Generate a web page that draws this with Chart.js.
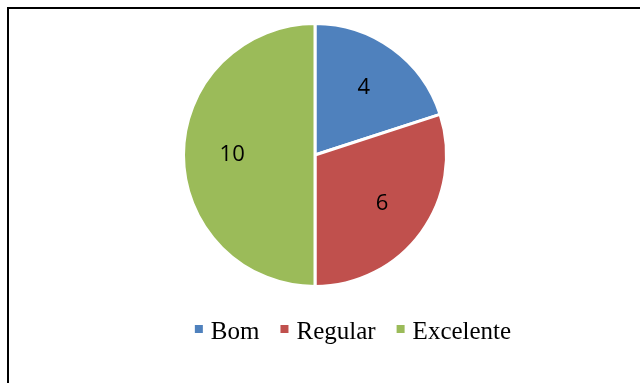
<!DOCTYPE html>
<html>
<head>
<meta charset="utf-8">
<script src="https://cdn.jsdelivr.net/npm/chart.js@4/dist/chart.umd.min.js"></script>
<style>
  html, body { margin: 0; padding: 0; background: #fff; }
  #wrap { position: relative; width: 640px; height: 383px; overflow: hidden; }
  #frame { position: absolute; left: 7px; top: 7px; width: 700px; height: 400px;
           border-top: 2px solid #000; border-left: 2px solid #000; }
  canvas { position: absolute; left: 0; top: 0; }
</style>
</head>
<body>
<div id="wrap">
  <div id="frame"></div>
  <canvas id="myChart" width="640" height="383"></canvas>
</div>
<script>
const categories = ['Bom', 'Regular', 'Excelente'];
const values = [4, 6, 10];
const colors = ['#4F81BD', '#C0504D', '#9BBB59'];

// numbers inside the slices
const sliceLabels = {
  id: 'sliceLabels',
  afterDatasetsDraw(chart) {
    const ctx = chart.ctx;
    const meta = chart.getDatasetMeta(0);
    ctx.save();
    ctx.font = '22px "Open Sans", sans-serif';
    ctx.fillStyle = '#000';
    ctx.textAlign = 'center';
    ctx.textBaseline = 'middle';
    meta.data.forEach((arc, i) => {
      const p = arc.getProps(['x', 'y', 'startAngle', 'endAngle', 'outerRadius'], true);
      const mid = (p.startAngle + p.endAngle) / 2;
      const r = p.outerRadius * 0.63;
      ctx.fillText(String(chart.data.datasets[0].data[i]), p.x + Math.cos(mid) * r, p.y + Math.sin(mid) * r);
    });
    ctx.restore();
  }
};

// legend drawn below the pie
const bottomLegend = {
  id: 'bottomLegend',
  afterDraw(chart) {
    const ctx = chart.ctx;
    const box = 8, gapText = 8, gapItem = 21;
    ctx.save();
    ctx.font = '25px "Liberation Serif", "Times New Roman", serif';
    const widths = chart.data.labels.map(l => ctx.measureText(l).width);
    let total = 0;
    widths.forEach((w, i) => { total += box + gapText + w + (i < widths.length - 1 ? gapItem : 0); });
    let x = 353 - total / 2;
    const baseline = 339;
    ctx.textBaseline = 'alphabetic';
    ctx.textAlign = 'left';
    chart.data.labels.forEach((l, i) => {
      ctx.fillStyle = chart.data.datasets[0].backgroundColor[i];
      ctx.fillRect(x, 325, box, box);
      x += box + gapText;
      ctx.fillStyle = '#000';
      ctx.fillText(l, x, baseline);
      x += widths[i] + gapItem;
    });
    ctx.restore();
  }
};

const ctx = document.getElementById('myChart').getContext('2d');
const myChart = new Chart(ctx, {
  type: 'pie',
  data: {
    labels: categories,
    datasets: [{
      data: values,
      backgroundColor: colors,
      borderColor: '#fff',
      borderWidth: 3
    }]
  },
  options: {
    responsive: false,
    animation: false,
    layout: { padding: { left: 182, right: 192, top: 22, bottom: 95 } },
    plugins: {
      legend: { display: false },
      tooltip: { enabled: false }
    }
  },
  plugins: [sliceLabels, bottomLegend]
});
</script>
</body>
</html>
